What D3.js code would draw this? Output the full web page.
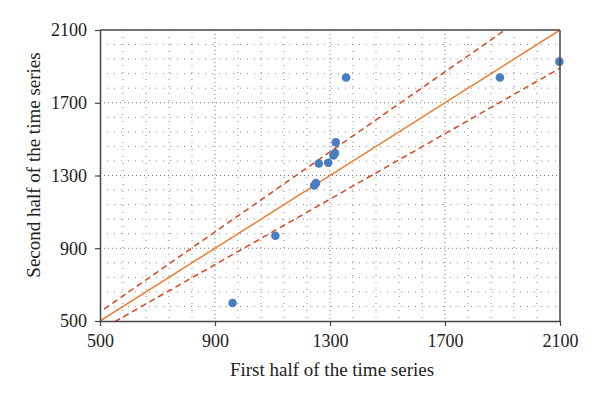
<!DOCTYPE html>
<html>
<head>
<meta charset="utf-8">
<script src="https://cdn.jsdelivr.net/npm/d3@7"></script>
<style>
  body { margin: 0; background: #fff; }
  svg text { font-family: "Liberation Serif", "DejaVu Serif", serif; fill: #222; }
</style>
</head>
<body>
<svg id="chart" width="600" height="398"></svg>
<script>
// data
const firstHalf  = [961, 1110, 1245, 1251, 1261, 1294, 1312, 1317, 1320, 1356, 1891, 2098]
const secondHalf = [599, 969, 1245, 1258, 1366, 1370, 1410, 1423, 1482, 1839, 1839, 1926]
const tickValues = [500, 900, 1300, 1700, 2100]
const bandFactors = [0.9, 1.1]   // dashed lines y = 0.9x and y = 1.1x

const svg = d3.select("#chart")
const margin = { left: 100, right: 40, top: 30, bottom: 77 }
const width = 600 - margin.left - margin.right
const height = 398 - margin.top - margin.bottom

const x = d3.scaleLinear().domain([500, 2100]).range([0, width])
const y = d3.scaleLinear().domain([500, 2100]).range([height, 0])

const chart = svg.append("g").attr("transform", `translate(${margin.left},${margin.top})`)

// minor grid (5 subdivisions between major ticks)
const minor = d3.range(500, 2100.1, 80).filter(v => !tickValues.includes(v))
chart.append("g").selectAll("line").data(minor).join("line")
  .attr("x1", d => x(d)).attr("x2", d => x(d)).attr("y1", 0).attr("y2", height)
  .attr("stroke", "#888").attr("stroke-width", 1).attr("stroke-dasharray", "1,6")
chart.append("g").selectAll("line").data(minor).join("line")
  .attr("y1", d => y(d)).attr("y2", d => y(d)).attr("x1", 0).attr("x2", width)
  .attr("stroke", "#888").attr("stroke-width", 1).attr("stroke-dasharray", "1,6")

// major grid
const major = tickValues.slice(1, -1)
chart.append("g").selectAll("line").data(major).join("line")
  .attr("x1", d => x(d)).attr("x2", d => x(d)).attr("y1", 0).attr("y2", height)
  .attr("stroke", "#777").attr("stroke-width", 1).attr("stroke-dasharray", "1,3")
chart.append("g").selectAll("line").data(major).join("line")
  .attr("y1", d => y(d)).attr("y2", d => y(d)).attr("x1", 0).attr("x2", width)
  .attr("stroke", "#777").attr("stroke-width", 1).attr("stroke-dasharray", "1,3")

// clip so the lines stay in the box
svg.append("defs").append("clipPath").attr("id", "clip")
  .append("rect").attr("width", width).attr("height", height)
const lines = chart.append("g").attr("clip-path", "url(#clip)")

// y = x
lines.append("line")
  .attr("x1", x(500)).attr("y1", y(500)).attr("x2", x(2100)).attr("y2", y(2100))
  .attr("stroke", "#ed7d31").attr("stroke-width", 1.5)

// +/- 10% bands
bandFactors.forEach(f => {
  lines.append("line")
    .attr("x1", x(400)).attr("y1", y(400 * f)).attr("x2", x(2200)).attr("y2", y(2200 * f))
    .attr("stroke", "#d9471c").attr("stroke-width", 1.5).attr("stroke-dasharray", "6,4")
})

// points
chart.append("g").selectAll("circle").data(firstHalf).join("circle")
  .attr("cx", d => x(d))
  .attr("cy", (d, i) => y(secondHalf[i]))
  .attr("r", 4.3)
  .attr("fill", "#4a7dc0")

// axes
const fmt = d3.format("d")
const xAxis = chart.append("g").attr("transform", `translate(0,${height})`)
  .call(d3.axisBottom(x).tickValues(tickValues).tickFormat(fmt).tickSize(5).tickSizeOuter(0).tickPadding(8))
const yAxis = chart.append("g")
  .call(d3.axisLeft(y).tickValues(tickValues).tickFormat(fmt).tickSize(5).tickSizeOuter(0).tickPadding(8))
;[xAxis, yAxis].forEach(a => {
  a.select(".domain").attr("stroke", "#444").attr("stroke-width", 1.5)
  a.selectAll(".tick line").attr("stroke", "#444").attr("stroke-width", 1.2)
  a.selectAll(".tick text").attr("font-size", 18).attr("font-family", "Liberation Serif, DejaVu Serif, serif").attr("fill", "#222")
})

// frame top and right
chart.append("line").attr("x1", 0).attr("x2", width).attr("y1", 0).attr("y2", 0)
  .attr("stroke", "#444").attr("stroke-width", 1.5)
chart.append("line").attr("x1", width).attr("x2", width).attr("y1", 0).attr("y2", height)
  .attr("stroke", "#444").attr("stroke-width", 1.5)

// axis titles
svg.append("text")
  .attr("x", 332).attr("y", 376)
  .attr("text-anchor", "middle").attr("font-size", 19)
  .text("First half of the time series")
svg.append("text")
  .attr("transform", `translate(40,165) rotate(-90)`)
  .attr("text-anchor", "middle").attr("font-size", 19)
  .text("Second half of the time series")
</script>
</body>
</html>
